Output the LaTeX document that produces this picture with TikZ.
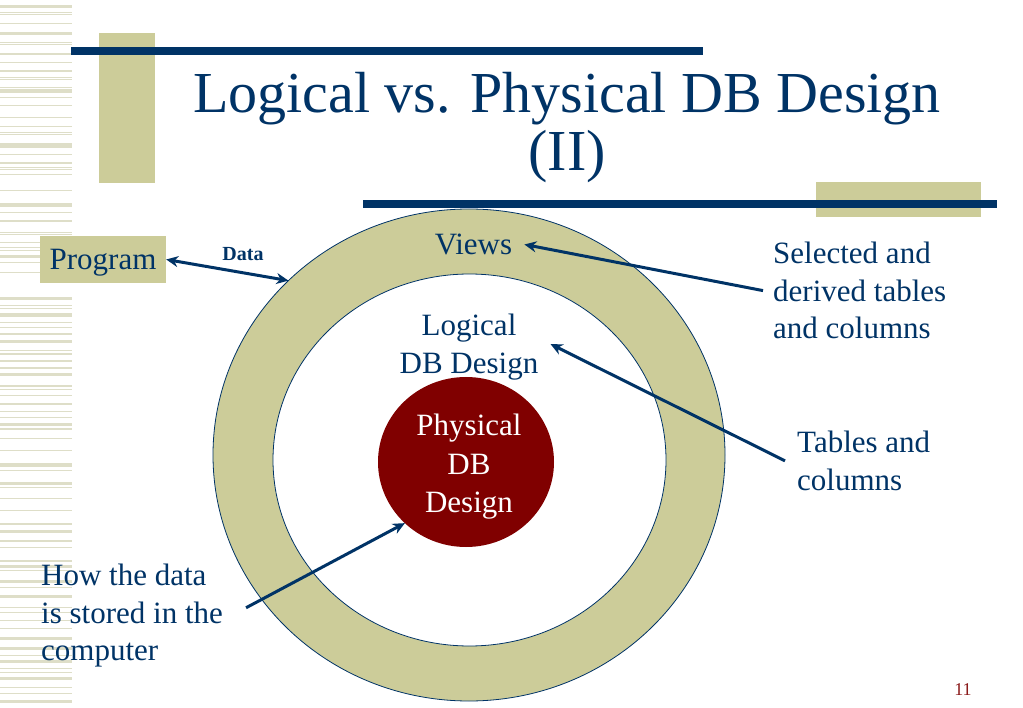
\documentclass[tikz,border=0pt]{standalone}
\usepackage{fontspec}
\setmainfont{Liberation Serif}
\usetikzlibrary{arrows.meta,shapes.geometric}
\definecolor{navy}{HTML}{003366}
\definecolor{sage}{HTML}{CCCC99}
\definecolor{stripecol}{HTML}{DEDEC8}
\definecolor{maroonred}{HTML}{800000}
\definecolor{pagered}{HTML}{8B1A1A}
\begin{document}
\begin{tikzpicture}[x=1pt,y=-1pt,
  body/.style={font=\fontsize{31}{37.5}\selectfont, text=navy, inner sep=0pt},
  arr/.style={draw=navy, line width=3pt, -{Stealth[length=12pt,width=11pt]}},
  darr/.style={draw=navy, line width=3pt, {Stealth[length=12pt,width=11pt]}-{Stealth[length=12pt,width=11pt]}},
  ring/.style={ellipse, draw=navy, line width=0.8pt, inner sep=0pt, outer sep=0pt}
]
\useasboundingbox (0,0) rectangle (1023,708);
\fill[white] (0,0) rectangle (1023,708);
% left stripes
\foreach \y/\h in {5/3,12/1,14/1,23/1,32/3,42/1,44/1,53/2,62/1,70/2,77/1,79/1,87/1,89/4,97/1,105/1,117/1,126/1,132/1,134/1,143/5,154/1,162/2,167/1,169/1,174/1,
190/1,203/4,212/1,220/2,232/1,234/1,242/1,247/1,250/1,255/3,262/1,272/1,297/3,305/1,308/1,313/4,322/1,327/1,333/2,340/3,350/1,353/2,
360/2,367/2,373/3,385/2,389/1,395/1,403/2,411/1,417/1,423/3,428/2,438/1,450/1,463/4,470/1,482/3,487/1,498/1,510/1,523/2,530/3,
540/2,547/1,560/2,565/3,570/1,580/3,587/1,595/3,607/1,612/1,620/1,628/1,637/3,647/3,655/1,660/3,668/1,672/1,677/3,687/1,693/1,700/3}
  {\fill[stripecol] (0,\y) rectangle (72,\y+\h);}
% decorative bars
\fill[sage] (99,33) rectangle (155,183);
\fill[navy] (71,47) rectangle (703,55);
\fill[sage] (816,182) rectangle (981,217);
\fill[navy] (363,200) rectangle (997,208);
% title
\node[anchor=north, align=center, font=\fontsize{58}{58}\selectfont, text=navy, inner sep=0pt] (title) at (567,72) {Logical vs. Physical DB Design\\(II)};
% rings
\node[ring, fill=sage, minimum width=512pt, minimum height=492pt] (outer) at (469,455) {};
\node[ring, fill=white, minimum width=393pt, minimum height=372pt] (inner) at (469.5,460) {};
\node[ellipse, fill=maroonred, inner sep=0pt, outer sep=0pt, minimum width=176pt, minimum height=170pt] (phys) at (466,462) {};
% texts
\node[fill=sage, minimum width=126pt, minimum height=47pt, inner sep=0pt, text height=20.5pt, text depth=0pt, font=\fontsize{31}{37.5}\selectfont, text=navy] (prog) at (103,259.5) {Program};
\node[font=\bfseries\fontsize{20}{24}\selectfont, text=navy, inner sep=0pt] (data) at (243,254.5) {Data};
\node[body, anchor=base] (views) at (473.5,254.5) {Views};
\node[body, anchor=north, align=center] (logic) at (469,314) {Logical\\DB Design};
\node[body, text=white, anchor=north, align=center, font=\fontsize{31}{38.5}\selectfont] (physt) at (469,414) {Physical\\DB\\Design};
\node[body, anchor=north west, align=left] (sel) at (773,242) {Selected and\\derived tables\\and columns};
\node[body, anchor=north west, align=left] (tab) at (797,431) {Tables and\\columns};
\node[body, anchor=north west, align=left] (how) at (41,564) {How the data\\is stored in the\\computer};
\node[font=\fontsize{18}{20}\selectfont, text=pagered, inner sep=0pt] (pg) at (963,690) {11};
% connectors
\draw[darr] (prog.east) -- (outer.136);
\draw[arr] ([xshift=-10pt]sel.west) -- ([xshift=12pt]views.east);
\draw[arr] ([xshift=-12pt]tab.west) -- ([xshift=12pt,yshift=3pt]logic.east);
\draw[arr] ([xshift=23pt,yshift=8pt]how.east) -- (phys.225);
\end{tikzpicture}
\end{document}
